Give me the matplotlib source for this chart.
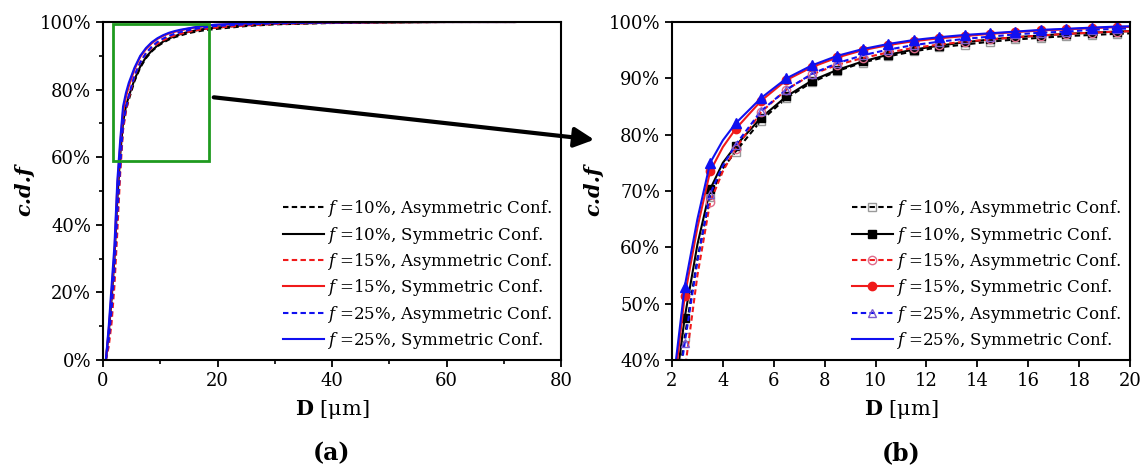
import numpy as np
import matplotlib
matplotlib.use("Agg")
import matplotlib.pyplot as plt
from matplotlib.patches import Rectangle

plt.rcParams['font.family'] = 'DejaVu Serif'
plt.rcParams['mathtext.fontset'] = 'dejavuserif'

# diameter samples [um]
D = [0.5, 1.0, 1.5, 2.0, 2.5, 3.0, 3.5, 4.0, 4.5, 5.5, 6.5, 7.5, 8.5, 9.5, 10.5,
     11.5, 12.5, 13.5, 14.5, 15.5, 16.5, 17.5, 18.5, 19.5, 25, 30, 40, 50, 60, 72]

# cumulative distribution [%]
asym_10 = [0, 7, 16, 28, 44.0, 58, 69.0, 74, 77.0, 82.5, 86.5, 89.3, 91.3, 92.8, 93.9,
           94.8, 95.5, 96.0, 96.5, 96.9, 97.2, 97.5, 97.7, 97.9, 98.8, 99.3, 99.7, 99.9, 100, 100]
sym_10 = [0, 8, 18, 30, 47.5, 60.5, 70.3, 75, 78.0, 83.0, 86.8, 89.6, 91.5, 93.0, 94.2,
          95.1, 95.8, 96.4, 96.9, 97.3, 97.6, 97.9, 98.1, 98.3, 99.1, 99.5, 99.8, 99.9, 100, 100]
asym_15 = [0, 4, 11, 22, 38.0, 55, 68.0, 73.5, 77.5, 84.0, 88.0, 90.7, 92.4, 93.6, 94.6,
           95.4, 96.0, 96.5, 96.9, 97.3, 97.6, 97.9, 98.1, 98.3, 99.0, 99.4, 99.8, 99.9, 100, 100]
sym_15 = [0, 9, 20, 32, 51.3, 63.5, 73.5, 77.8, 81.0, 86.0, 89.7, 92.0, 93.7, 95.0, 95.9,
          96.6, 97.1, 97.5, 97.9, 98.2, 98.5, 98.7, 98.9, 99.1, 99.5, 99.7, 99.9, 100, 100, 100]
asym_25 = [0, 6, 15, 27, 43.0, 57.5, 69.5, 74.5, 78.2, 84.2, 88.0, 90.8, 92.7, 94.1, 95.1,
           95.9, 96.5, 97.0, 97.4, 97.8, 98.1, 98.3, 98.6, 98.8, 99.3, 99.6, 99.9, 100, 100, 100]
sym_25 = [0, 10, 22, 34, 53.0, 65, 75.0, 79, 82.0, 86.5, 90.0, 92.3, 94.0, 95.2, 96.1,
          96.8, 97.3, 97.7, 98.0, 98.3, 98.6, 98.8, 99.0, 99.2, 99.6, 99.8, 99.9, 100, 100, 100]

labels = ['$f$ =10%, Asymmetric Conf.', '$f$ =10%, Symmetric Conf.',
          '$f$ =15%, Asymmetric Conf.', '$f$ =15%, Symmetric Conf.',
          '$f$ =25%, Asymmetric Conf.', '$f$ =25%, Symmetric Conf.']

RED = '#f01a1a'
BLUE = '#1010f0'
dash = (0, (2.6, 1.6))

series = [
    (asym_10, 'black', dash, 's', 'none', '#9a9a9a'),
    (sym_10, 'black', '-', 's', 'black', 'black'),
    (asym_15, RED, dash, 'o', 'none', '#e06a8a'),
    (sym_15, RED, '-', 'o', RED, RED),
    (asym_25, BLUE, dash, '^', 'none', '#7a5ad0'),
    (sym_25, BLUE, '-', '^', BLUE, BLUE),
]

fig = plt.figure(figsize=(11.42, 4.67), dpi=100)
ax1 = fig.add_axes([0.0902, 0.2291, 0.4011, 0.7238])
ax2 = fig.add_axes([0.5884, 0.2291, 0.4011, 0.7238])

D = np.array(D)
# markers sit on the half-micron samples between 2.5 and 19.5
mk = (D >= 2.5) & (D <= 19.5) & (np.mod(D, 1) == 0.5)

for (y, c, ls, m, fc, ec), lab in zip(series, labels):
    y = np.array(y)
    # panel (a): plain lines
    ax1.plot(D, y, color=c, ls=ls, lw=1.5, label=lab)
    # panel (b): lines with markers
    if m == '^' and ls == '-':
        ax2.plot(D, y, color=c, ls=ls, lw=1.5, label=lab)
        ax2.plot(D[mk], y[mk], ls='none', marker=m, ms=7, mfc=fc, mec=ec)
    else:
        ax2.plot(D, y, color=c, ls=ls, lw=1.5, marker=m, ms=6,
                 mfc=fc, mec=ec, mew=1.0, markevery=list(np.where(mk)[0]), label=lab)

ax1.set_xlim(0, 80)
ax1.set_ylim(0, 100)
ax1.set_xticks([0, 20, 40, 60, 80])
ax1.set_xticks([10, 30, 50, 70], minor=True)
ax1.set_yticks(np.arange(0, 101, 20))
ax1.set_yticks(np.arange(10, 100, 20), minor=True)

ax2.set_xlim(2, 20)
ax2.set_ylim(40, 100)
ax2.set_xticks(np.arange(2, 21, 2))
ax2.set_yticks(np.arange(40, 101, 10))

for ax in (ax1, ax2):
    ax.set_yticklabels([f'{int(t)}%' for t in ax.get_yticks()])
    ax.tick_params(which='major', direction='out', length=5, width=1.3, labelsize=13,
                   top=False, right=False)
    ax.tick_params(which='minor', direction='out', length=3, width=1.2)
    for s in ax.spines.values():
        s.set_linewidth(1.5)
    ax.set_xlabel(r'$\mathbf{D}$ [μm]', fontsize=15, labelpad=6)
    ax.set_ylabel('c.d.f', fontsize=15, fontweight='bold', fontstyle='italic', labelpad=4)
    ax.legend(loc='lower right', frameon=False, fontsize=12, handlelength=2.5,
              handletextpad=0.15, labelspacing=0.32, borderaxespad=0.25,
              borderpad=0.3)

# zoom window marked on panel (a)
ax1.add_patch(Rectangle((1.7, 59), 16.8, 40.5, fill=False, ec='#1f9a1f', lw=2, zorder=5))

# arrow pointing to panel (b)
ax1.annotate('', xy=(597 / 1142, 1 - 140 / 467), xycoords='figure fraction',
             xytext=(211 / 1142, 1 - 97 / 467), textcoords='figure fraction',
             arrowprops=dict(arrowstyle='-|>', lw=3, color='black', mutation_scale=30))

fig.text(0.290, 0.015, '(a)', fontsize=17, fontweight='bold', ha='center')
fig.text(0.789, 0.015, '(b)', fontsize=17, fontweight='bold', ha='center')

fig.savefig('out.png', dpi=100)
